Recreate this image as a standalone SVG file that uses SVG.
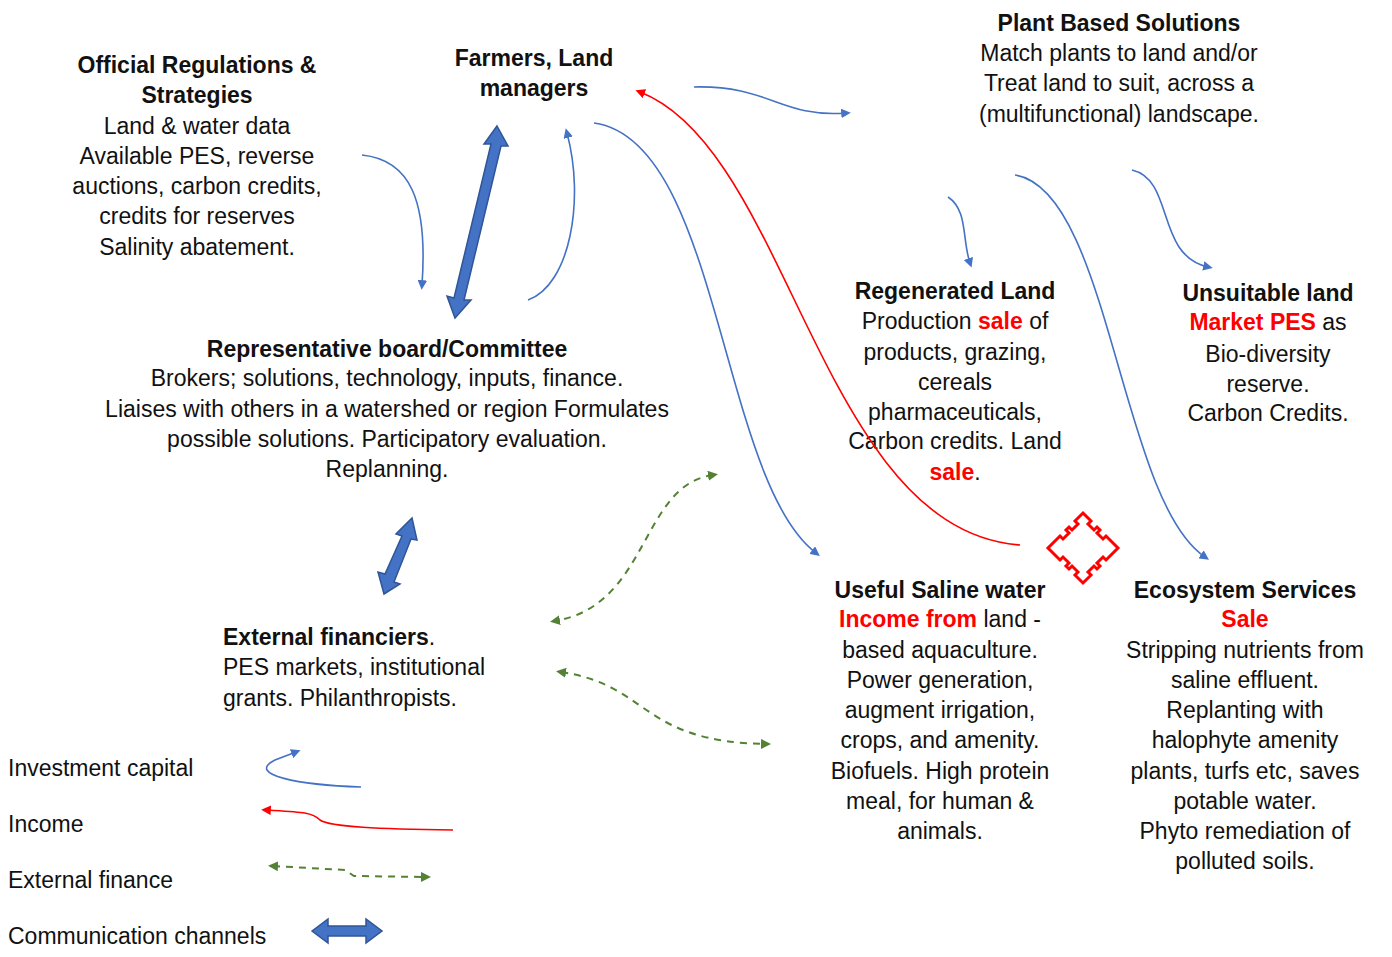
<svg xmlns="http://www.w3.org/2000/svg" width="1392" height="957" viewBox="0 0 1392 957">
<style>
text{font-family:"Liberation Sans",Arial,sans-serif;font-size:23px;fill:#111;text-anchor:middle}
.b{font-weight:bold}
.r{fill:#ff0000;font-weight:bold}
.l{text-anchor:start}
.bl{fill:none;stroke:#4472c4;stroke-width:1.6}
.rd{fill:none;stroke:#ff0000;stroke-width:1.6}
.gr{fill:none;stroke:#548235;stroke-width:2;stroke-dasharray:7 6}
.blk{fill:#4472c4;stroke:#2f5597;stroke-width:1.5}
</style>
<defs>
<marker id="ab" viewBox="0 0 10 10" refX="5" refY="5" markerWidth="6" markerHeight="6" orient="auto"><path d="M0,0L10,5L0,10z" fill="#4472c4"/></marker>
<marker id="ar" viewBox="0 0 10 10" refX="5" refY="5" markerWidth="6" markerHeight="6" orient="auto"><path d="M0,0L10,5L0,10z" fill="#ff0000"/></marker>
<marker id="ag" viewBox="0 0 10 10" refX="5" refY="5" markerWidth="5" markerHeight="5" orient="auto-start-reverse"><path d="M0,0L10,5L0,10z" fill="#548235"/></marker>
</defs>

<g id="official"><text x="197" y="73" class="b">Official Regulations &amp;</text><text x="197" y="103" class="b">Strategies</text><text x="197" y="134">Land &amp; water data</text><text x="197" y="164">Available PES, reverse</text><text x="197" y="194">auctions, carbon credits,</text><text x="197" y="224">credits for reserves</text><text x="197" y="255">Salinity abatement.</text></g>
<g id="farmers"><text x="534" y="66" class="b">Farmers, Land</text><text x="534" y="96" class="b">managers</text></g>
<g id="plant"><text x="1119" y="31" class="b">Plant Based Solutions</text><text x="1119" y="61">Match plants to land and/or</text><text x="1119" y="91">Treat land to suit, across a</text><text x="1119" y="122">(multifunctional) landscape.</text></g>
<g id="board"><text x="387" y="357" class="b">Representative board/Committee</text><text x="387" y="386">Brokers; solutions, technology, inputs, finance.</text><text x="387" y="417">Liaises with others in a watershed or region Formulates</text><text x="387" y="447">possible solutions. Participatory evaluation.</text><text x="387" y="477">Replanning.</text></g>
<g id="regen"><text x="955" y="299" class="b">Regenerated Land</text><text x="955" y="329">Production <tspan class="r">sale</tspan> of</text><text x="955" y="360">products, grazing,</text><text x="955" y="390">cereals</text><text x="955" y="420">pharmaceuticals,</text><text x="955" y="449">Carbon credits. Land</text><text x="955" y="480"><tspan class="r">sale</tspan>.</text></g>
<g id="unsuit"><text x="1268" y="301" class="b">Unsuitable land</text><text x="1268" y="330"><tspan class="r">Market PES</tspan> as</text><text x="1268" y="362">Bio-diversity</text><text x="1268" y="392">reserve.</text><text x="1268" y="421">Carbon Credits.</text></g>
<g id="saline"><text x="940" y="598" class="b">Useful Saline water</text><text x="940" y="627"><tspan class="r">Income from</tspan> land -</text><text x="940" y="658">based aquaculture.</text><text x="940" y="688">Power generation,</text><text x="940" y="718">augment irrigation,</text><text x="940" y="748">crops, and amenity.</text><text x="940" y="779">Biofuels. High protein</text><text x="940" y="809">meal, for human &amp;</text><text x="940" y="839">animals.</text></g>
<g id="eco"><text x="1245" y="598" class="b">Ecosystem Services</text><text x="1245" y="627" class="r">Sale</text><text x="1245" y="658">Stripping nutrients from</text><text x="1245" y="688">saline effluent.</text><text x="1245" y="718">Replanting with</text><text x="1245" y="748">halophyte amenity</text><text x="1245" y="779">plants, turfs etc, saves</text><text x="1245" y="809">potable water.</text><text x="1245" y="839">Phyto remediation of</text><text x="1245" y="869">polluted soils.</text></g>
<g id="external"><text x="223" y="645" class="l"><tspan class="b">External financiers</tspan>.</text><text x="223" y="675" class="l">PES markets, institutional</text><text x="223" y="706" class="l">grants. Philanthropists.</text></g>
<g id="legend"><text x="8" y="776" class="l">Investment capital</text><text x="8" y="832" class="l">Income</text><text x="8" y="888" class="l">External finance</text><text x="8" y="944" class="l">Communication channels</text></g>
<g id="symbol"><path d="M1083,513 L1091,521 L1088,524 L1094,530 L1097,527 L1100,530 L1097,533 L1103,539 L1106,536 L1118,548 L1106,560 L1103,557 L1097,563 L1100,566 L1097,569 L1094,566 L1088,572 L1091,575 L1083,583 L1075,575 L1078,572 L1072,566 L1069,569 L1066,566 L1069,563 L1063,557 L1060,560 L1048,548 L1060,536 L1063,539 L1069,533 L1066,530 L1069,527 L1072,530 L1078,524 L1075,521 Z" fill="none" stroke="#ff0000" stroke-width="3"/></g>
<g id="connectors">
<path class="bl" d="M362,155 C410,160 428,200 422,285" marker-end="url(#ab)"/>
<path class="bl" d="M528,300 C570,285 585,200 567,133" marker-end="url(#ab)"/>
<path class="bl" d="M694,87 C770,85 780,118 846,113" marker-end="url(#ab)"/>
<path class="bl" d="M594,123 C720,140 720,480 816,553" marker-end="url(#ab)"/>
<path class="bl" d="M948,197 C968,210 962,240 970,263" marker-end="url(#ab)"/>
<path class="bl" d="M1132,170 C1175,180 1155,255 1208,267" marker-end="url(#ab)"/>
<path class="bl" d="M1015,175 C1110,190 1120,500 1205,557" marker-end="url(#ab)"/>
<path class="rd" d="M1020,545 C820,530 790,150 640,92" marker-end="url(#ar)"/>
<path class="gr" d="M713,475 C640,485 650,605 555,621" marker-start="url(#ag)" marker-end="url(#ag)"/>
<path class="gr" d="M561,672 C650,685 640,742 766,744" marker-start="url(#ag)" marker-end="url(#ag)"/>
<polygon class="blk" points="497,126 508,146 501,146 464,300 471,300 455,318 447,296 454,298 491,144 484,144"/>
<polygon class="blk" points="412,518 417,540 411,539 394,582 400,584 384,594 378,572 385,574 402,536 396,534"/>
<path class="bl" d="M361,787 C300,785 245,775 275,760 L296,752" marker-end="url(#ab)"/>
<path class="rd" d="M453,830 C380,829 330,827 320,820 C312,812 300,812 266,810" marker-end="url(#ar)"/>
<path class="gr" d="M273,866 L345,870 L354,876 L426,877" marker-start="url(#ag)" marker-end="url(#ag)"/>
<polygon class="blk" points="312,931 328,919 328,926 366,926 366,919 382,931 366,943 366,936 328,936 328,943"/>
</g>
</svg>
